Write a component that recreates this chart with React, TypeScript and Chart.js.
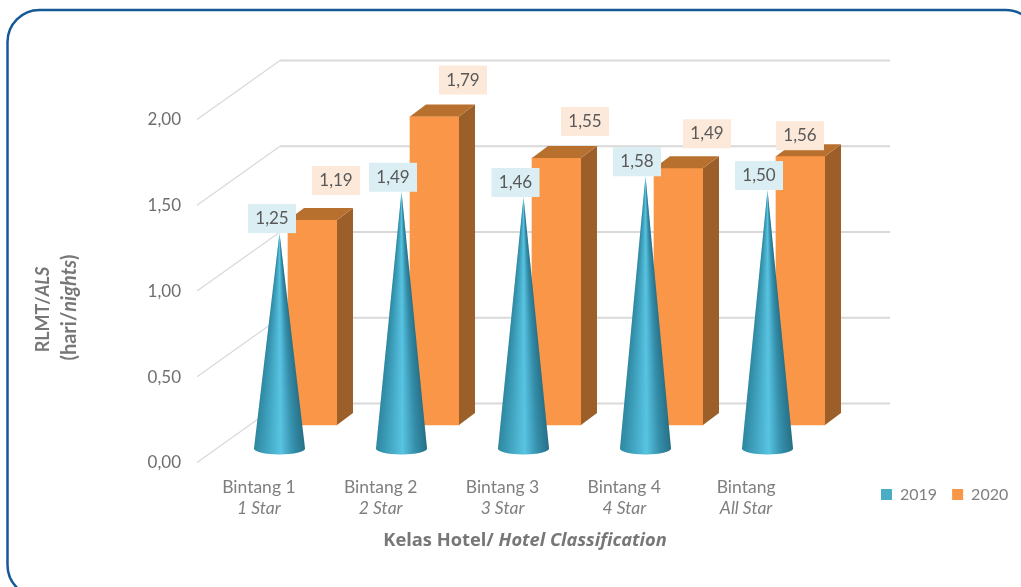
import React, { useEffect, useRef } from "react";
import { Chart, registerables } from "chart.js";

Chart.register(...registerables);

// ---- data ----
const categories = ["Bintang 1", "Bintang 2", "Bintang 3", "Bintang 4", "Bintang"];
const categoriesEn = ["1 Star", "2 Star", "3 Star", "4 Star", "All Star"];
const seriesNames = ["2019", "2020"];
const values2019 = [1.25, 1.49, 1.46, 1.58, 1.5];
const values2020 = [1.19, 1.79, 1.55, 1.49, 1.56];

// ---- style ----
const FONT = "Lato, Carlito, 'Open Sans', sans-serif";
const TITLE_FONT = "'Open Sans', Lato, sans-serif";
const BLUE = "#4BACC6";
const ORANGE = "#F99648";
const SIDE = "#9C5F2A";
const TOP = "#B8702F";
const GRID = "#D9D9D9";
const LABEL_BLUE = "#DAEEF3";
const LABEL_ORANGE = "#FDE9D9";
const DEPTH_X = 16;
const DEPTH_Y = 12;
const WALL_X = 83;
const WALL_Y = 59;
const WALL_RIGHT = 890;
const PLOT = { left: 198, right: 807, top: 120, bottom: 463 };
const PX_PER_UNIT = 172.3;
const STEP = 122;

// linear bounds that put value 0 / index 0 of a series on its own 3-D floor position
const yBounds = (zeroPx: number) => {
  const min = (zeroPx - PLOT.bottom) / PX_PER_UNIT;
  return { min, max: min + (PLOT.bottom - PLOT.top) / PX_PER_UNIT };
};
const xBounds = (firstPx: number) => ({
  min: (PLOT.left - firstPx) / STEP,
  max: (PLOT.right - firstPx) / STEP,
});

// label placement (box centre offset from the mark, box bottom offset from the mark top)
const coneLabelDx = [-7.5, -8.5, -8, -8.5, -8.5];
const barLabelDx = [23.5, 28.5, 28.5, 28.5, -0.5];
const barLabelGap = [25, 22, 22, 20, 6];

const comma = (v: number) => v.toFixed(2).replace(".", ",");

type Run = { t: string; font: string };
function drawRuns(ctx: CanvasRenderingContext2D, runs: Run[], cx: number, cy: number, rot: number, color: string) {
  ctx.save();
  ctx.translate(cx, cy);
  ctx.rotate(rot);
  ctx.fillStyle = color;
  ctx.textBaseline = "middle";
  ctx.textAlign = "left";
  let total = 0;
  runs.forEach((r) => {
    ctx.font = r.font;
    total += ctx.measureText(r.t).width;
  });
  let x = -total / 2;
  runs.forEach((r) => {
    ctx.font = r.font;
    ctx.fillText(r.t, x, 0);
    x += ctx.measureText(r.t).width;
  });
  ctx.restore();
}

const coneStops: [number, string][] = [
  [0, "rgb(46,135,160)"],
  [0.22, "rgb(62,160,188)"],
  [0.52, "rgb(88,196,226)"],
  [0.78, "rgb(52,142,170)"],
  [1, "rgb(40,112,135)"],
];

function drawCone(ctx: CanvasRenderingContext2D, cx: number, tip: number, base: number, halfW: number) {
  const ry = 6;
  ctx.save();
  ctx.beginPath();
  ctx.moveTo(cx, tip);
  ctx.lineTo(cx + halfW, base);
  ctx.ellipse(cx, base, halfW, ry, 0, 0, Math.PI);
  ctx.closePath();
  ctx.clip();
  for (let y = Math.floor(tip); y < base + ry + 1; y++) {
    const hw = Math.max(0.6, Math.min(1, (y - tip) / (base - tip)) * halfW);
    const g = ctx.createLinearGradient(cx - hw, 0, cx + hw, 0);
    coneStops.forEach(([s, c]) => g.addColorStop(s, c));
    ctx.fillStyle = g;
    ctx.fillRect(cx - hw - 1, y, 2 * hw + 2, 1.2);
  }
  ctx.restore();
}

function drawLabel(ctx: CanvasRenderingContext2D, cx: number, bottom: number, text: string, bg: string) {
  const w = 48;
  const h = 29;
  ctx.fillStyle = bg;
  ctx.fillRect(cx - w / 2, bottom - h, w, h);
  ctx.fillStyle = "#595959";
  ctx.font = `17px ${FONT}`;
  ctx.textAlign = "center";
  ctx.textBaseline = "middle";
  ctx.fillText(text, cx, bottom - h / 2);
}

const chart3d = {
  id: "chart3d",
  beforeLayout(chart: any) {
    const lg = chart.legend;
    if (lg && !lg.__zero) {
      const fit = lg.fit;
      lg.fit = function () {
        fit.call(this);
        this.height = 0;
      };
      lg.__zero = true;
    }
  },
  afterLayout(chart: any) {
    const lg = chart.legend;
    if (lg) {
      lg.left = 866;
      lg.right = 1060;
      lg.top = 471.5;
      lg.bottom = 512;
    }
  },
  beforeDraw(chart: any) {
    const ctx = chart.ctx;
    ctx.save();
    ctx.strokeStyle = "#155A96";
    ctx.lineWidth = 2.5;
    ctx.beginPath();
    ctx.roundRect(7.5, 10, 1030, 587, 32);
    ctx.stroke();
    ctx.restore();
  },
  beforeDatasetsDraw(chart: any) {
    const ctx = chart.ctx;
    const y = chart.scales.y;
    ctx.save();
    ctx.strokeStyle = GRID;
    y.ticks.forEach((t: any) => {
      const py = y.getPixelForValue(t.value);
      const fx = PLOT.left - 1;
      ctx.lineWidth = 1.25;
      ctx.beginPath();
      ctx.moveTo(fx, py - 0.5);
      ctx.lineTo(fx + WALL_X, py - 0.5 - WALL_Y);
      ctx.stroke();
      ctx.lineWidth = 2;
      ctx.beginPath();
      ctx.moveTo(fx + WALL_X, py - 0.5 - WALL_Y);
      ctx.lineTo(WALL_RIGHT, py - 0.5 - WALL_Y);
      ctx.stroke();
    });
    ctx.restore();
  },
  afterDatasetDraw(chart: any, args: any) {
    const ctx = chart.ctx;
    const meta = chart.getDatasetMeta(args.index);
    if (args.index === 1) {
      meta.data.forEach((el: any) => {
        const r = el.x + el.width / 2;
        const l = el.x - el.width / 2;
        ctx.fillStyle = SIDE;
        ctx.beginPath();
        ctx.moveTo(r, el.y);
        ctx.lineTo(r + DEPTH_X, el.y - DEPTH_Y);
        ctx.lineTo(r + DEPTH_X, el.base - DEPTH_Y);
        ctx.lineTo(r, el.base);
        ctx.closePath();
        ctx.fill();
        ctx.fillStyle = TOP;
        ctx.beginPath();
        ctx.moveTo(l, el.y);
        ctx.lineTo(l + DEPTH_X, el.y - DEPTH_Y);
        ctx.lineTo(r + DEPTH_X, el.y - DEPTH_Y);
        ctx.lineTo(r, el.y);
        ctx.closePath();
        ctx.fill();
      });
    } else {
      meta.data.forEach((el: any) => drawCone(ctx, el.x, el.y, el.base, el.width / 2));
    }
  },
  afterDatasetsDraw(chart: any) {
    const ctx = chart.ctx;
    ctx.save();
    chart.getDatasetMeta(1).data.forEach((el: any, i: number) => {
      drawLabel(ctx, el.x + barLabelDx[i], el.y - barLabelGap[i], comma(values2020[i]), LABEL_ORANGE);
    });
    chart.getDatasetMeta(0).data.forEach((el: any, i: number) => {
      drawLabel(ctx, el.x + coneLabelDx[i], el.y, comma(values2019[i]), LABEL_BLUE);
    });
    ctx.restore();
  },
  afterDraw(chart: any) {
    const ctx = chart.ctx;
    const color = "#777777";
    const b = `bold 18.3px ${TITLE_FONT}`;
    const bi = `italic bold 18.3px ${TITLE_FONT}`;
    const b2 = `bold 18px ${FONT}`;
    const bi2 = `italic bold 18px ${FONT}`;
    const b3 = `bold 20px ${FONT}`;
    const bi3 = `italic bold 20px ${FONT}`;
    drawRuns(ctx, [{ t: "Kelas Hotel/ ", font: b }, { t: "Hotel Classification", font: bi }], 525, 541, 0, color);
    drawRuns(ctx, [{ t: "RLMT/", font: b2 }, { t: "ALS", font: bi2 }], 43, 309.5, -Math.PI / 2, color);
    drawRuns(ctx, [{ t: "(hari/", font: b3 }, { t: "nights", font: bi3 }, { t: ")", font: b3 }], 69.5, 307.5, -Math.PI / 2, color);
  },
};

const hiddenX = (firstPx: number) => ({
  type: "linear",
  axis: "x",
  display: false,
  offset: false,
  ...xBounds(firstPx),
});
const hiddenY = (zeroPx: number) => ({
  type: "linear",
  axis: "y",
  display: false,
  ...yBounds(zeroPx),
});
const catAxis = (labels: string[], italic: boolean, padding: number, boxHeight: number, weight: number) => ({
  type: "category",
  axis: "x",
  position: "bottom",
  labels,
  offset: true,
  weight,
  grid: { display: false, drawTicks: false },
  border: { display: false },
  afterFit: (s: any) => {
    s.height = boxHeight;
  },
  ticks: {
    autoSkip: false,
    maxRotation: 0,
    padding,
    color: "#7F7F7F",
    font: { family: FONT, size: 17.5, style: italic ? "italic" : "normal" },
  },
});

export default function App() {
  const ref = useRef<HTMLCanvasElement>(null);
  useEffect(() => {
    const chart = new Chart(ref.current as HTMLCanvasElement, {
      type: "bar",
      plugins: [chart3d],
      data: {
        datasets: [
          {
            label: seriesNames[0],
            data: values2019.map((y, x) => ({ x, y })),
            backgroundColor: "rgba(0,0,0,0)",
            xAxisID: "xCone",
            yAxisID: "yCone",
            barThickness: 51,
            grouped: false,
            order: 1,
            clip: false,
          },
          {
            label: seriesNames[1],
            data: values2020.map((y, x) => ({ x, y })),
            backgroundColor: ORANGE,
            xAxisID: "xBar",
            yAxisID: "yBar",
            barThickness: 49,
            grouped: false,
            order: 2,
            clip: false,
          },
        ],
      } as any,
      options: {
        responsive: false,
        animation: false,
        events: [],
        layout: {
          padding: {
            left: 0,
            top: PLOT.top,
            right: 1021 - PLOT.right,
            bottom: 0,
          },
        },
        plugins: {
          tooltip: { enabled: false },
          title: { display: false },
          legend: {
            display: true,
            position: "bottom",
            align: "start",
            fullSize: false,
            labels: {
              boxWidth: 11,
              boxHeight: 11,
              padding: 15,
              color: "#7F7F7F",
              font: { family: FONT, size: 16 },
              generateLabels: () =>
                seriesNames.map((text, i) => ({
                  text,
                  fillStyle: i === 0 ? BLUE : ORANGE,
                  strokeStyle: "rgba(0,0,0,0)",
                  lineWidth: 0,
                  datasetIndex: i,
                  fontColor: "#7F7F7F",
                })),
            },
          },
        },
        scales: {
          y: {
            type: "linear",
            position: "left",
            min: 0,
            max: 2,
            grid: { display: false, drawTicks: false },
            border: { display: false },
            afterFit: (s: any) => {
              s.width = PLOT.left;
            },
            ticks: {
              stepSize: 0.5,
              padding: 17,
              color: "#6E6E6E",
              font: { family: FONT, size: 17 },
              callback: (v: any) => comma(Number(v)),
            },
          },
          x: catAxis(categories, false, 14, 35, 1),
          x2: catAxis(categoriesEn, true, 0, 89, 2),
          xBar: hiddenX(312.5),
          xCone: hiddenX(279.5),
          yBar: hiddenY(425),
          yCone: hiddenY(448.5),
        },
      } as any,
    });
    return () => chart.destroy();
  }, []);
  return (
    <canvas
      ref={ref}
      width={1021}
      height={587}
      style={{ position: "absolute", left: 0, top: 0, display: "block", background: "#fff" }}
    />
  );
}
